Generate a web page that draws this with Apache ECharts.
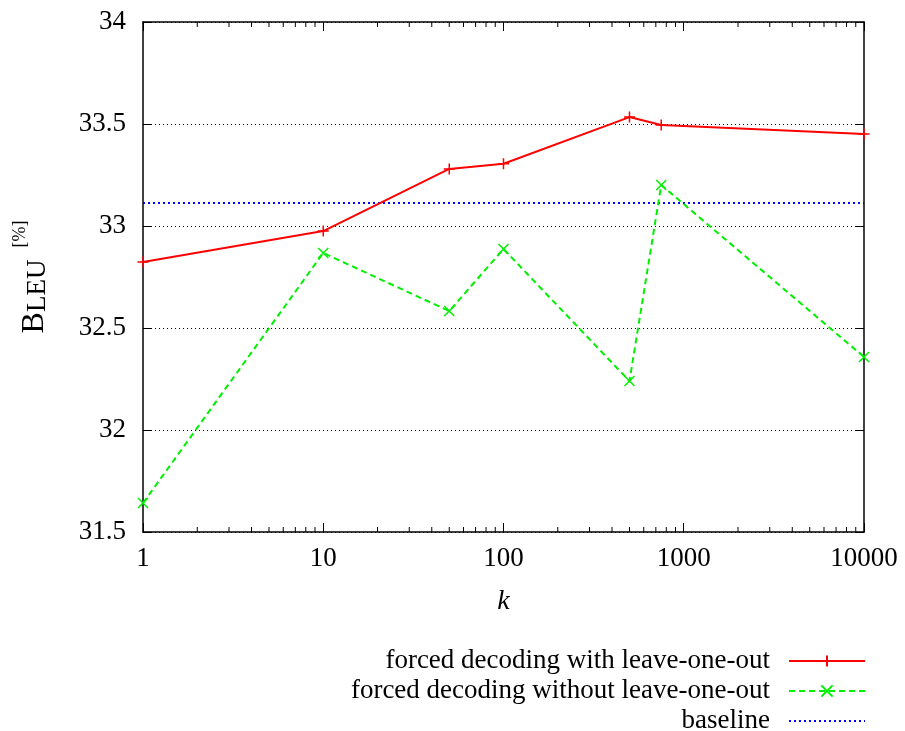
<!DOCTYPE html>
<html>
<head>
<meta charset="utf-8">
<script src="https://cdn.jsdelivr.net/npm/echarts@6/dist/echarts.min.js"></script>
<style>html,body{margin:0;padding:0;background:#fff}#c{width:905px;height:731px}</style>
</head>
<body>
<div id="c"></div>
<script>
// ---- data ----
const kValues = [1, 10, 50, 100, 500, 750, 10000];
const withLOO = [32.824, 32.975, 33.28, 33.305, 33.534, 33.495, 33.451];
const withoutLOO = [31.642, 32.868, 32.583, 32.887, 32.240, 33.201, 32.358];
const baselineValue = 33.113;
const baselineK = [1, 10000];
const seriesNames = ['forced decoding with leave-one-out', 'forced decoding without leave-one-out', 'baseline'];
const xTickLabels = ['1', '10', '100', '1000', '10000'];
const minorTickValues = [2,3,4,5,6,7,8,9,20,30,40,50,60,70,80,90,200,300,400,500,600,700,800,900,2000,3000,4000,5000,6000,7000,8000,9000];
const yMin = 31.5, yMax = 34, yStep = 0.5;

const FONT = '"Liberation Serif", "DejaVu Serif", serif';
const chart = echarts.init(document.getElementById('c'));

const plusPath = 'path://M0,5L10,5M5,0L5,10';
const crossPath = 'path://M0,0L10,10M0,10L10,0';

chart.setOption({
  animation: false,
  backgroundColor: '#fff',
  grid: { left: 143, right: 41, top: 22, bottom: 199, containLabel: false },
  xAxis: [
    {
      type: 'log', logBase: 10, min: 1, max: 10000,
      name: 'k', nameLocation: 'middle', nameGap: 56,
      nameTextStyle: { fontFamily: FONT, fontSize: 28, fontStyle: 'italic', color: '#000' },
      axisLine: { show: true, onZero: false, lineStyle: { color: '#000', width: 1.5 } },
      axisTick: { show: true, inside: true, length: 9, lineStyle: { color: '#000', width: 1 } },
      axisLabel: { fontFamily: FONT, fontSize: 27, color: '#000', margin: 13,
        formatter: v => xTickLabels.find(t => Number(t) === Math.round(v)) || '' },
      splitLine: { show: false }, minorTick: { show: false }
    },
    {
      type: 'log', logBase: 10, min: 1, max: 10000, position: 'top',
      axisLine: { show: true, onZero: false, lineStyle: { color: '#000', width: 1.5 } },
      axisTick: { show: true, inside: true, length: 9, lineStyle: { color: '#000', width: 1 } },
      axisLabel: { show: false }, splitLine: { show: false }
    }
  ],
  yAxis: [
    {
      type: 'value', min: yMin, max: yMax, interval: yStep,
      name: '{b|B}{s|LEU}{p|[%]}', nameLocation: 'middle', nameGap: 92, nameRotate: 90,
      nameTextStyle: {
        fontFamily: FONT, color: '#000', padding: [0, 0, 0, 0],
        rich: {
          b: { fontFamily: FONT, fontSize: 32, color: '#000', verticalAlign: 'bottom', lineHeight: 40 },
          s: { fontFamily: FONT, fontSize: 27, color: '#000', verticalAlign: 'bottom', lineHeight: 40 },
          p: { fontFamily: FONT, fontSize: 18, color: '#000', verticalAlign: 'top', lineHeight: 40, padding: [0, 0, 0, 12] }
        }
      },
      axisLine: { show: true, onZero: false, lineStyle: { color: '#000', width: 1.5 } },
      axisTick: { show: true, inside: true, length: 9, lineStyle: { color: '#000', width: 1 } },
      axisLabel: { fontFamily: FONT, fontSize: 27, color: '#000', margin: 17 },
      splitLine: { show: true, lineStyle: { color: '#000', width: 1, type: [1, 3] } }
    },
    {
      type: 'value', min: yMin, max: yMax, interval: yStep, position: 'right',
      axisLine: { show: true, onZero: false, lineStyle: { color: '#000', width: 1.5 } },
      axisTick: { show: true, inside: true, length: 9, lineStyle: { color: '#000', width: 1 } },
      axisLabel: { show: false }, splitLine: { show: false }
    }
  ],
  legend: {
    data: [seriesNames[0], seriesNames[1], { name: seriesNames[2], itemStyle: { opacity: 0 } }],
    orient: 'vertical', align: 'right',
    right: 39, top: 647, padding: 0, height: 90,
    itemWidth: 76, itemHeight: 14, itemGap: 2,
    textStyle: { fontFamily: FONT, fontSize: 27, color: '#000', lineHeight: 28, padding: [0, 14, 0, 0] }
  },
  series: [
    {
      name: seriesNames[0], type: 'line',
      data: kValues.map((k, i) => [k, withLOO[i]]),
      symbol: plusPath, symbolSize: 11, showAllSymbol: true,
      lineStyle: { color: '#ff0000', width: 2 },
      itemStyle: { color: '#ff0000', borderColor: '#ff0000', borderWidth: 1.5 },
      z: 5
    },
    {
      name: seriesNames[1], type: 'line',
      data: kValues.map((k, i) => [k, withoutLOO[i]]),
      symbol: crossPath, symbolSize: 10, showAllSymbol: true,
      lineStyle: { color: '#00f000', width: 2, type: [6, 4] },
      itemStyle: { color: '#00f000', borderColor: '#00f000', borderWidth: 1.5 },
      z: 4
    },
    {
      name: seriesNames[2], type: 'line',
      data: baselineK.map(k => [k, baselineValue]),
      symbol: 'none',
      lineStyle: { color: '#0000ff', width: 2, type: [2, 3] },
      itemStyle: { color: '#0000ff' },
      z: 3
    },
    {
      type: 'custom', silent: true,
      data: minorTickValues.map(v => [v, yMin]),
      renderItem: function (params, api) {
        const v = api.value(0);
        const b = api.coord([v, yMin]);
        const t = api.coord([v, yMax]);
        return {
          type: 'group',
          children: [
            { type: 'line', shape: { x1: b[0], y1: b[1], x2: b[0], y2: b[1] - 5 }, style: { stroke: '#000', lineWidth: 1 } },
            { type: 'line', shape: { x1: t[0], y1: t[1], x2: t[0], y2: t[1] + 5 }, style: { stroke: '#000', lineWidth: 1 } }
          ]
        };
      },
      z: 6
    }
  ]
});
</script>
</body>
</html>
